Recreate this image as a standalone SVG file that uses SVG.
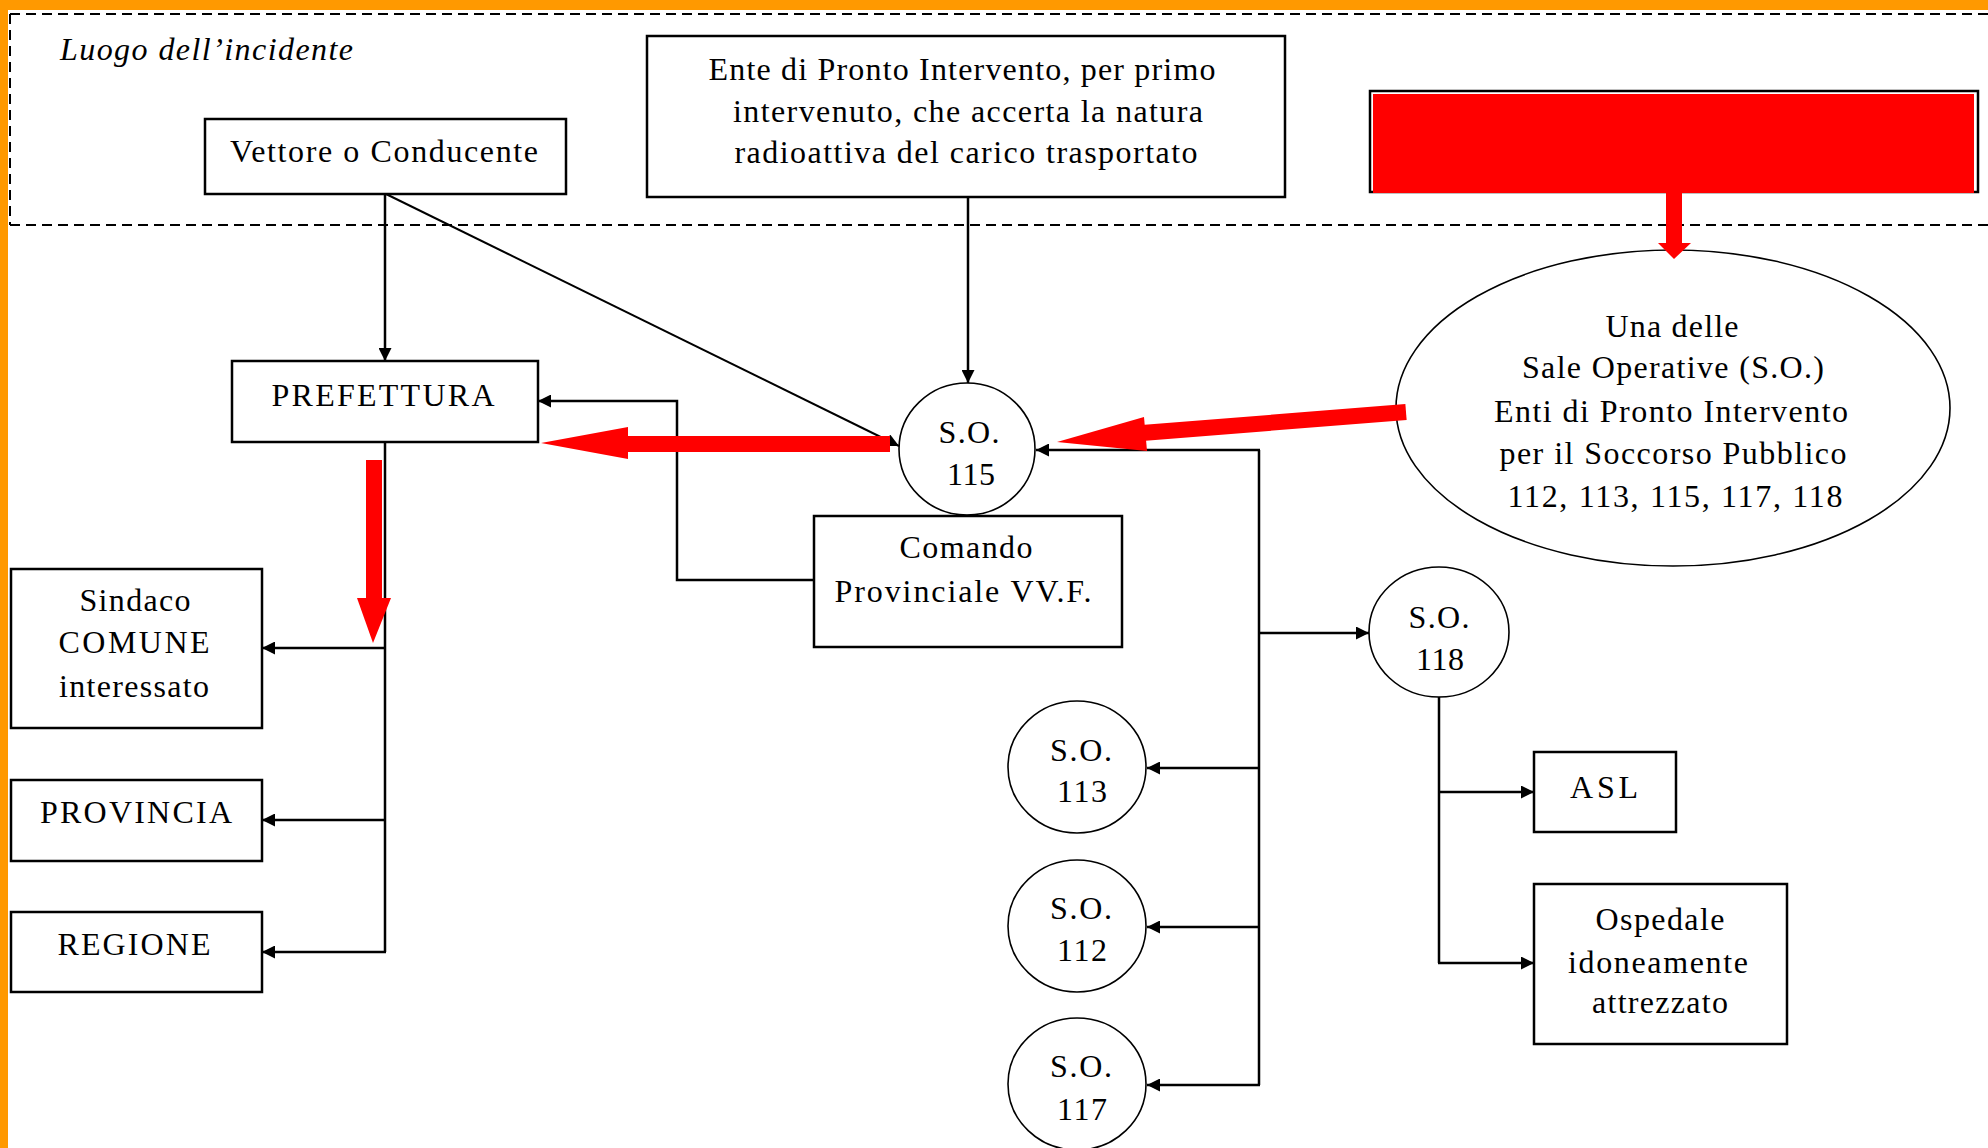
<svg xmlns="http://www.w3.org/2000/svg" width="1988" height="1148" viewBox="0 0 1988 1148">
<defs>
<style>
.t{font-family:"Liberation Serif","Times New Roman",serif;font-size:32px;fill:#000;text-anchor:middle}
.it{font-style:italic;text-anchor:start}
.box{fill:#fff;stroke:#000;stroke-width:2.5}
.ell{fill:#fff;stroke:#000;stroke-width:1.6}
.ln{fill:none;stroke:#000;stroke-width:2.5}
.dash{fill:none;stroke:#000;stroke-width:2;stroke-dasharray:10 6}
.red{fill:#ff0000;stroke:none}
</style>
<marker id="ah" viewBox="0 0 10 10" refX="10" refY="5" markerWidth="15" markerHeight="13" markerUnits="userSpaceOnUse" orient="auto">
<path d="M0,0 L10,5 L0,10 z" fill="#000"/>
</marker>
</defs>
<rect x="0" y="0" width="1988" height="1148" fill="#fff"/>
<rect x="0" y="0" width="1988" height="10" fill="#ff9900"/>
<rect x="0" y="0" width="8" height="1148" fill="#ff9900"/>
<g id="zone">
<path class="dash" d="M10,14 H1988 M10,14 V225 M10,225 H1988"/>
<text class="t it" x="60" y="60" textLength="293" lengthAdjust="spacing">Luogo dell’incidente</text>
</g>
<g id="connectors">
<path class="ln" d="M385,194 V361" marker-end="url(#ah)"/>
<path class="ln" style="stroke-width:2" d="M386,194 L899,446" marker-end="url(#ah)"/>
<path class="ln" d="M968,197 V383" marker-end="url(#ah)"/>
<path class="ln" d="M814,580 H677 V401 H538" marker-end="url(#ah)"/>
<path class="ln" d="M385,442 V952"/>
<path class="ln" d="M385,648 H262" marker-end="url(#ah)"/>
<path class="ln" d="M385,820 H262" marker-end="url(#ah)"/>
<path class="ln" d="M386,952 H262" marker-end="url(#ah)"/>
<path class="ln" d="M1259,450 V1085"/>
<path class="ln" d="M1260,450 H1036" marker-end="url(#ah)"/>
<path class="ln" d="M1259,633 H1369" marker-end="url(#ah)"/>
<path class="ln" d="M1259,768 H1147" marker-end="url(#ah)"/>
<path class="ln" d="M1259,927 H1147" marker-end="url(#ah)"/>
<path class="ln" d="M1260,1085 H1147" marker-end="url(#ah)"/>
<path class="ln" d="M1439,697 V963"/>
<path class="ln" d="M1439,792 H1534" marker-end="url(#ah)"/>
<path class="ln" d="M1438,963 H1534" marker-end="url(#ah)"/>
</g>
<g id="n-vettore">
<rect class="box" x="205" y="119" width="361" height="75"/>
<text class="t" x="384" y="162" textLength="308" lengthAdjust="spacing">Vettore o Conducente</text>
</g>
<g id="n-ente">
<rect class="box" x="647" y="36" width="638" height="161"/>
<text class="t" x="962" y="80" textLength="507" lengthAdjust="spacing">Ente di Pronto Intervento, per primo</text>
<text class="t" x="968" y="122" textLength="470" lengthAdjust="spacing">intervenuto, che accerta la natura</text>
<text class="t" x="966" y="163" textLength="463" lengthAdjust="spacing">radioattiva del carico trasportato</text>
</g>
<g id="n-redbox">
<rect class="box" x="1370" y="91" width="608" height="101"/>
<rect class="red" x="1373" y="94" width="601" height="99"/>
</g>
<g id="n-sale">
<ellipse class="ell" cx="1673" cy="408" rx="277" ry="158"/>
<text class="t" x="1672" y="337" textLength="133" lengthAdjust="spacing">Una delle</text>
<text class="t" x="1673" y="378" textLength="302" lengthAdjust="spacing">Sale Operative (S.O.)</text>
<text class="t" x="1671" y="422" textLength="354" lengthAdjust="spacing">Enti di Pronto Intervento</text>
<text class="t" x="1673" y="464" textLength="347" lengthAdjust="spacing">per il Soccorso Pubblico</text>
<text class="t" x="1675" y="507" textLength="335" lengthAdjust="spacing">112, 113, 115, 117, 118</text>
</g>
<g id="n-prefettura">
<rect class="box" x="232" y="361" width="306" height="81"/>
<text class="t" x="383" y="406" textLength="223" lengthAdjust="spacing">PREFETTURA</text>
</g>
<g id="n-so115">
<ellipse class="ell" cx="967" cy="449" rx="68" ry="66"/>
<text class="t" x="969" y="443" textLength="61" lengthAdjust="spacing">S.O.</text>
<text class="t" x="971" y="485" textLength="48" lengthAdjust="spacing">115</text>
</g>
<g id="n-comando">
<rect class="box" x="814" y="516" width="308" height="131"/>
<text class="t" x="966" y="558" textLength="133" lengthAdjust="spacing">Comando</text>
<text class="t" x="963" y="602" textLength="257" lengthAdjust="spacing">Provinciale VV.F.</text>
</g>
<g id="n-sindaco">
<rect class="box" x="11" y="569" width="251" height="159"/>
<text class="t" x="135" y="611" textLength="111" lengthAdjust="spacing">Sindaco</text>
<text class="t" x="134" y="653" textLength="151" lengthAdjust="spacing">COMUNE</text>
<text class="t" x="134" y="697" textLength="150" lengthAdjust="spacing">interessato</text>
</g>
<g id="n-provincia">
<rect class="box" x="11" y="780" width="251" height="81"/>
<text class="t" x="136" y="823" textLength="192" lengthAdjust="spacing">PROVINCIA</text>
</g>
<g id="n-regione">
<rect class="box" x="11" y="912" width="251" height="80"/>
<text class="t" x="134" y="955" textLength="153" lengthAdjust="spacing">REGIONE</text>
</g>
<g id="n-so118">
<ellipse class="ell" cx="1439" cy="632" rx="70" ry="65"/>
<text class="t" x="1439" y="628" textLength="61" lengthAdjust="spacing">S.O.</text>
<text class="t" x="1440" y="670" textLength="48" lengthAdjust="spacing">118</text>
</g>
<g id="n-so113">
<ellipse class="ell" cx="1077" cy="767" rx="69" ry="66"/>
<text class="t" x="1081" y="761" textLength="62" lengthAdjust="spacing">S.O.</text>
<text class="t" x="1082" y="802" textLength="50" lengthAdjust="spacing">113</text>
</g>
<g id="n-so112">
<ellipse class="ell" cx="1077" cy="926" rx="69" ry="66"/>
<text class="t" x="1081" y="919" textLength="62" lengthAdjust="spacing">S.O.</text>
<text class="t" x="1082" y="961" textLength="50" lengthAdjust="spacing">112</text>
</g>
<g id="n-so117">
<ellipse class="ell" cx="1077" cy="1084" rx="69" ry="66"/>
<text class="t" x="1081" y="1077" textLength="62" lengthAdjust="spacing">S.O.</text>
<text class="t" x="1082" y="1120" textLength="50" lengthAdjust="spacing">117</text>
</g>
<g id="n-asl">
<rect class="box" x="1534" y="752" width="142" height="80"/>
<text class="t" x="1604" y="798" textLength="68" lengthAdjust="spacing">ASL</text>
</g>
<g id="n-ospedale">
<rect class="box" x="1534" y="884" width="253" height="160"/>
<text class="t" x="1660" y="930" textLength="129" lengthAdjust="spacing">Ospedale</text>
<text class="t" x="1658" y="973" textLength="180" lengthAdjust="spacing">idoneamente</text>
<text class="t" x="1660" y="1013" textLength="136" lengthAdjust="spacing">attrezzato</text>
</g>
<g id="red-arrows">
<rect class="red" x="1666" y="192" width="16" height="51"/>
<polygon class="red" points="1658,243 1691,243 1674,259"/>
<path d="M1406,412 L1142,433" stroke="#ff0000" stroke-width="16" fill="none"/>
<polygon class="red" points="1057,442 1144,417 1147,451"/>
<rect class="red" x="626" y="436" width="264" height="16"/>
<polygon class="red" points="541,443 628,427 628,459"/>
<rect class="red" x="366" y="460" width="16" height="139"/>
<polygon class="red" points="357,598 391,598 373,643"/>
</g>
</svg>
